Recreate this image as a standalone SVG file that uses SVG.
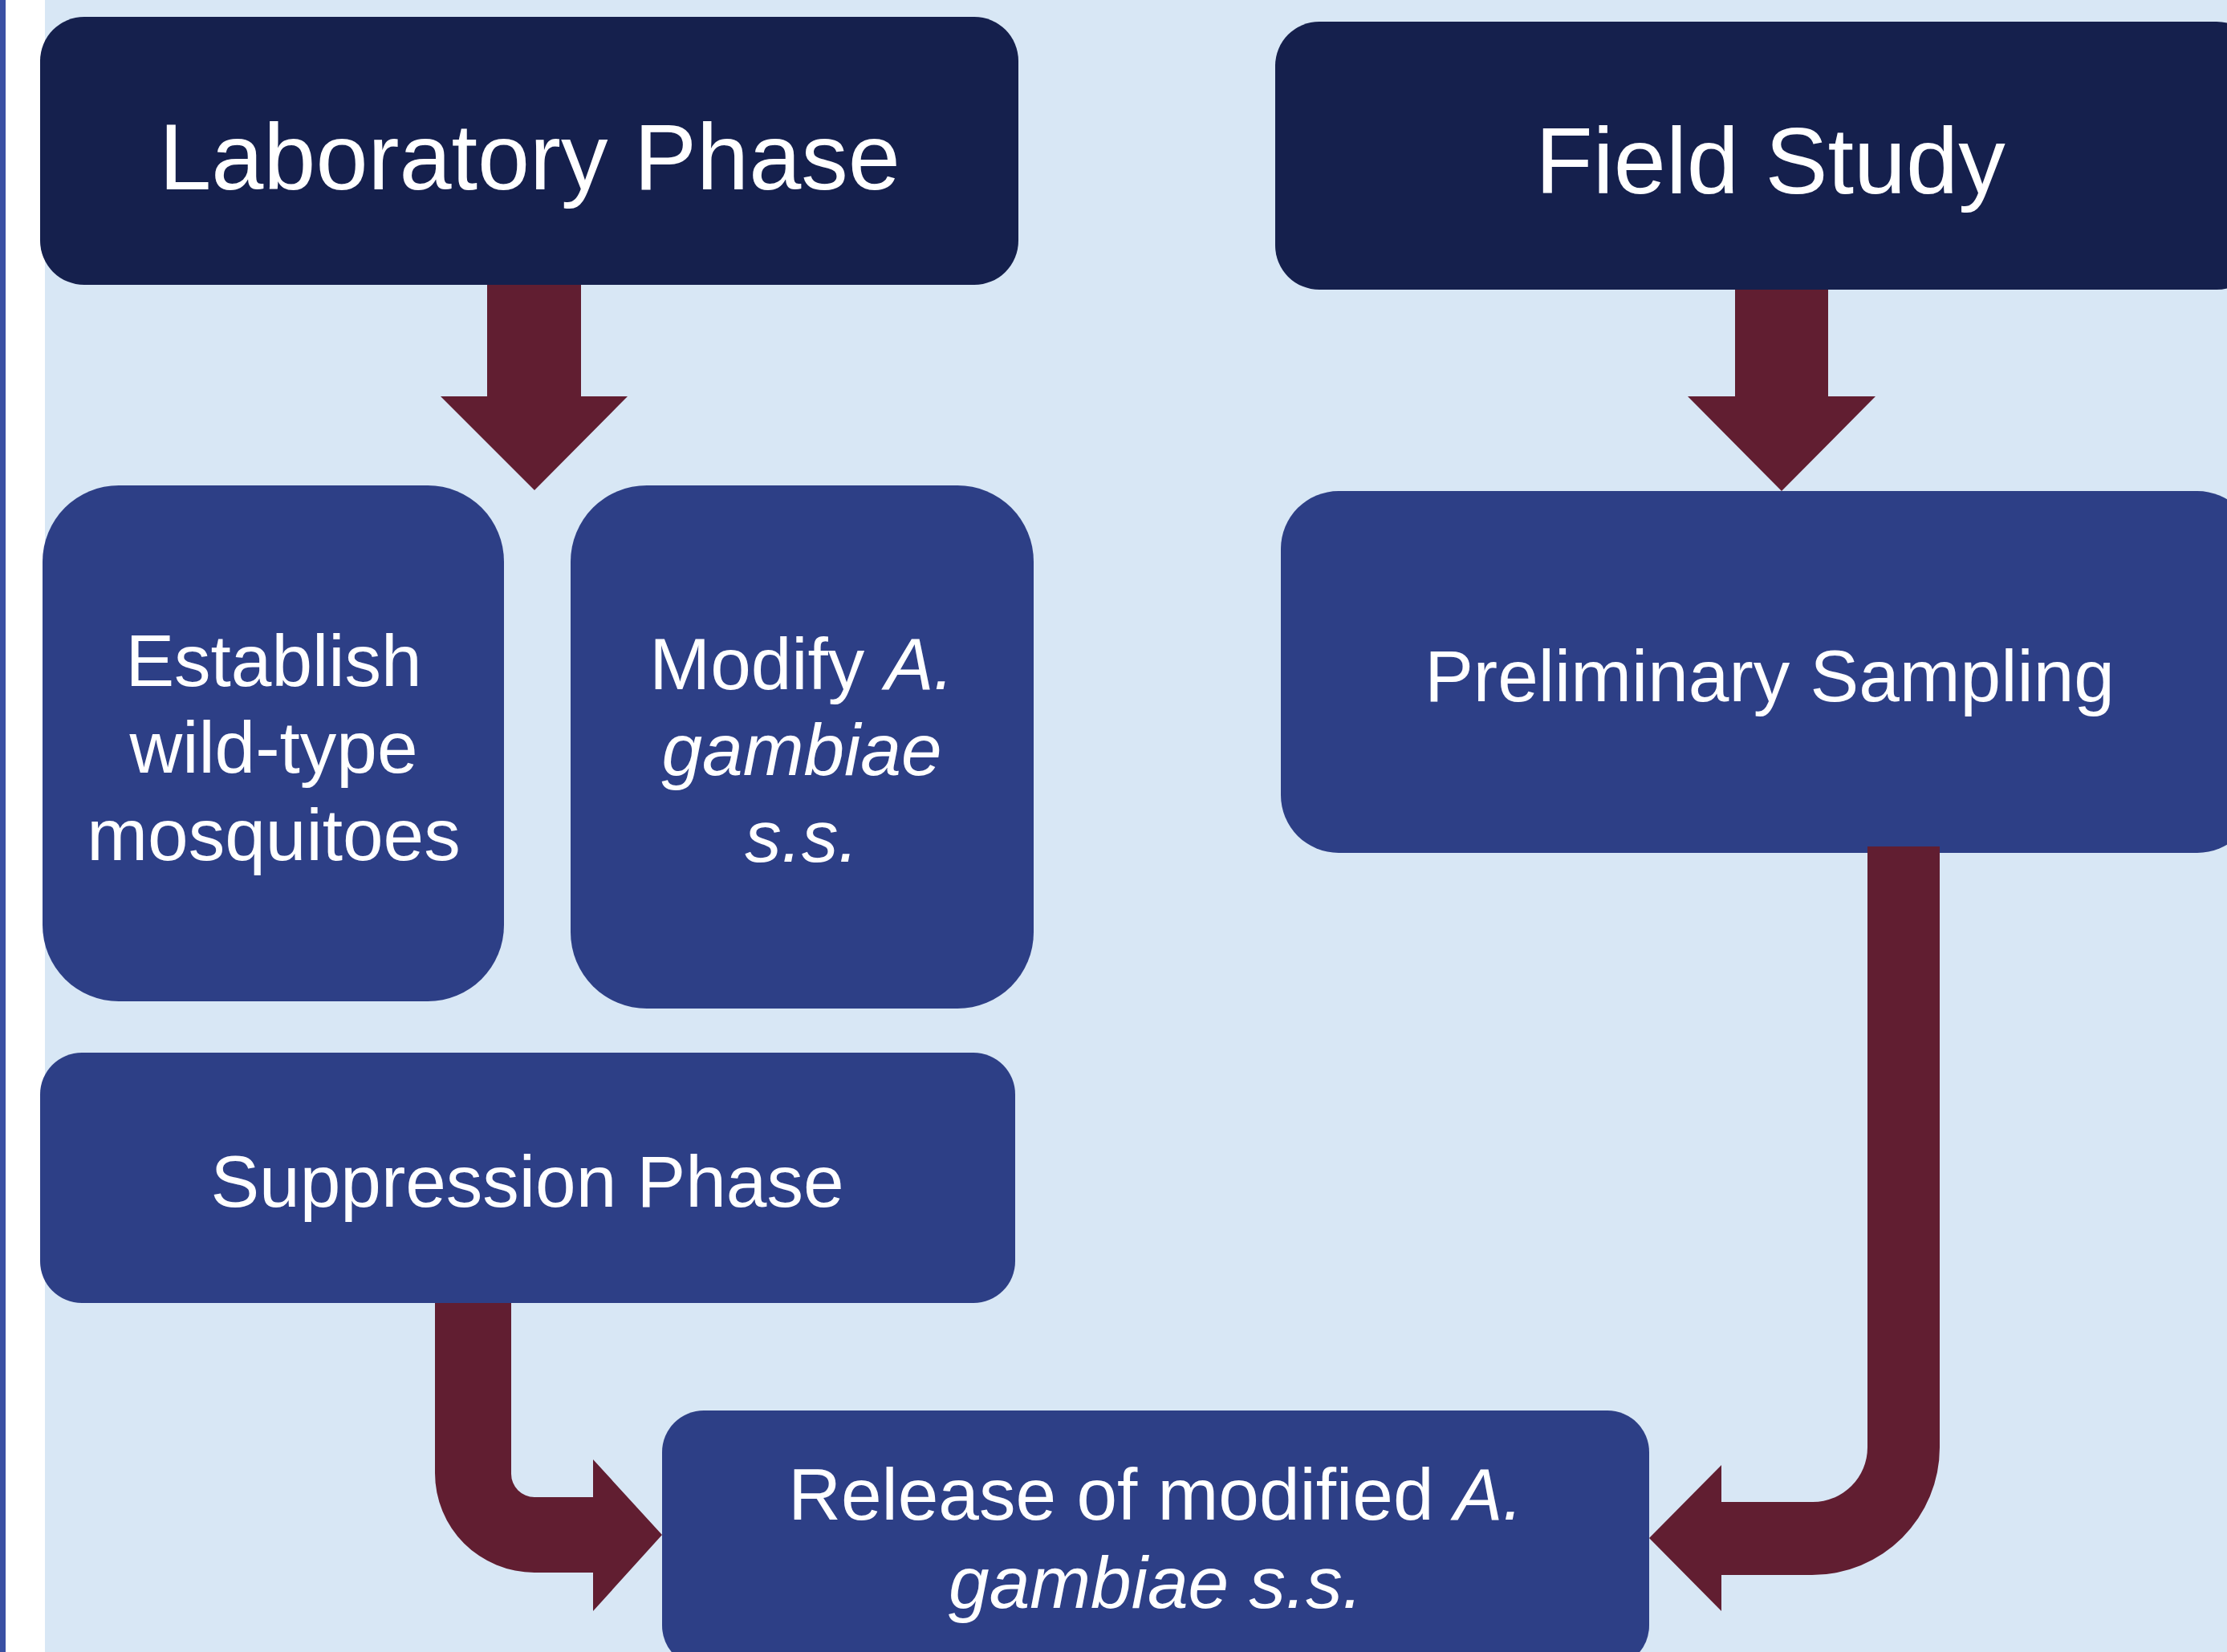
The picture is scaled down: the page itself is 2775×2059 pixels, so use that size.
<svg xmlns="http://www.w3.org/2000/svg" width="2775" height="2059" viewBox="0 0 2775 2059">
<style>
.bg{fill:#d8e7f5}
.hdr{fill:#15204d}
.box{fill:#2d3f86}
.conn{fill:#611e31}
text{font-family:"Liberation Sans",Arial,sans-serif;fill:#ffffff;text-anchor:middle}
.t1{font-size:117px}
.t2{font-size:91px}
.it{font-style:italic}
</style>
<rect x="0" y="0" width="2775" height="2059" fill="#ffffff"/>
<rect x="0" y="0" width="7" height="2059" fill="#3a50a3"/>
<rect class="bg" x="56" y="0" width="2719" height="2059"/>
<g id="node-lab">
<rect class="hdr" x="50" y="21" width="1219" height="334" rx="55" ry="55"/>
<text class="t1" x="660" y="236">Laboratory Phase</text>
</g>
<g id="node-field">
<rect class="hdr" x="1589" y="27" width="1228" height="334" rx="55" ry="55"/>
<text class="t1" x="2206" y="241">Field Study</text>
</g>
<g id="node-establish">
<rect class="box" x="53" y="605" width="575" height="643" rx="95" ry="95"/>
<text class="t2" x="341" y="855">Establish</text>
<text class="t2" x="341" y="963">wild-type</text>
<text class="t2" x="341" y="1072">mosquitoes</text>
</g>
<g id="node-modify">
<rect class="box" x="711" y="605" width="577" height="652" rx="95" ry="95"/>
<text class="t2" x="999" y="859">Modify <tspan class="it">A.</tspan></text>
<text class="t2 it" x="999" y="966">gambiae</text>
<text class="t2 it" x="999" y="1074">s.s.</text>
</g>
<g id="node-prelim">
<rect class="box" x="1596" y="612" width="1214" height="451" rx="72" ry="72"/>
<text class="t2" x="2205" y="874">Preliminary Sampling</text>
</g>
<g id="node-suppression">
<rect class="box" x="50" y="1312" width="1215" height="312" rx="52" ry="52"/>
<text class="t2" x="657" y="1504">Suppression Phase</text>
</g>
<g id="node-release">
<rect class="box" x="825" y="1758" width="1230" height="320" rx="52" ry="52"/>
<text class="t2" x="1440" y="1894">Release of modified <tspan class="it">A.</tspan></text>
<text class="t2 it" x="1440" y="2004">gambiae s.s.</text>
</g>
<g id="connectors">
<path class="conn" d="M607,355 L724,355 L724,494 L782,494 L666,611 L549,494 L607,494 Z"/>
<path class="conn" d="M2162,361 L2278,361 L2278,494 L2337,494 L2220,612 L2103,494 L2162,494 Z"/>
<path class="conn" d="M542,1624 L637,1624 L637,1837 A29,29 0 0 0 666,1866 L739,1866 L739,1819 L825,1913 L739,2008 L739,1960 L666,1960 A124,124 0 0 1 542,1836 Z"/>
<path class="conn" d="M2327,1055 L2417,1055 L2417,1804 A159,159 0 0 1 2258,1963 L2145,1963 L2145,2008 L2055,1917 L2145,1826 L2145,1872 L2259,1872 A68,68 0 0 0 2327,1804 Z"/>
</g>
</svg>
